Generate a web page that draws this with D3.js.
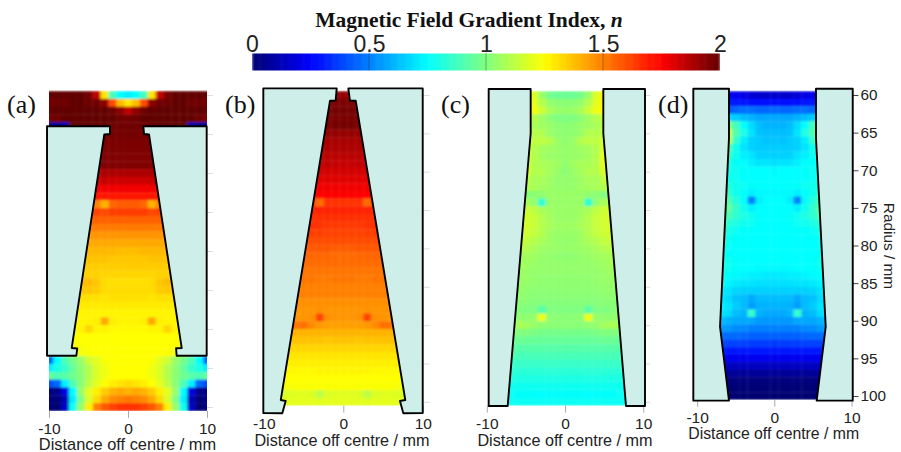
<!DOCTYPE html>
<html lang="en">
<head>
<meta charset="UTF-8">
<title>Magnetic Field Gradient Index</title>
<script src="https://d3js.org/d3.v7.min.js"></script>
<style>
  * { margin: 0; padding: 0; box-sizing: border-box; }
  body { background: #fff; }
  text { font-family: "Liberation Sans", Arial, sans-serif; fill: #222; }
  .serif { font-family: "Liberation Serif", "Times New Roman", serif; fill: #111; }
</style>
</head>
<body>
<div id="chart"></div>
<script>
// radius of each row, mm. each row below reads from the centre outwards (0, 1, 2 ... mm off centre)
const radii = d3.range(60, 101);
const xTicks = [-10, 0, 10];
const radiusTicks = [60, 65, 70, 75, 80, 85, 90, 95, 100];
const barTicks = [0, 0.5, 1, 1.5, 2];

const nA = [
  [0.72,0.75,0.88,1.3,1.85,1.97,2,2,2,2,2],
  [1.3,1.38,1.6,1.93,1.98,1.98,2,2,1.98,1.98,1.98],
  [1.85,1.93,1.98,2,2,2,2,2,2,2,2],
  [1.97,1.98,2,2,2,2,2,2,2,1.98,1.97],
  [1.98,1.98,1.98,2,2,2,2,2,0.12,0.08,0.1],
  [1.97,1.97,1.97,1.97],
  [1.96,1.96,1.96,1.96,1.96],
  [1.96,1.96,1.96,1.96,1.96],
  [1.95,1.95,1.95,1.95,1.95],
  [1.95,1.95,1.95,1.95,1.95],
  [1.88,1.88,1.88,1.88,1.88],
  [1.83,1.83,1.83,1.84,1.84],
  [1.77,1.77,1.77,1.77,1.77],
  [1.71,1.71,1.71,1.71,1.71,1.71],
  [1.57,1.57,1.55,1.4,1.5,1.4],
  [1.63,1.63,1.63,1.6,1.62,1.62],
  [1.56,1.56,1.56,1.56,1.56,1.56],
  [1.51,1.51,1.51,1.51,1.51,1.51],
  [1.46,1.46,1.46,1.46,1.46,1.46],
  [1.42,1.42,1.42,1.42,1.42,1.42],
  [1.38,1.38,1.39,1.39,1.39,1.39],
  [1.36,1.36,1.36,1.37,1.37,1.37,1.37],
  [1.35,1.35,1.35,1.35,1.35,1.35,1.35],
  [1.33,1.33,1.33,1.33,1.34,1.34,1.34],
  [1.31,1.31,1.31,1.32,1.36,1.38,1.38],
  [1.32,1.32,1.32,1.32,1.35,1.36,1.36],
  [1.31,1.31,1.31,1.3,1.31,1.31,1.31,1.31],
  [1.29,1.29,1.29,1.29,1.29,1.29,1.29,1.29],
  [1.27,1.27,1.27,1.27,1.27,1.27,1.27,1.27],
  [1.27,1.27,1.28,1.42,1.28,1.27,1.27,1.27],
  [1.26,1.26,1.26,1.27,1.27,1.33,1.27,1.26],
  [1.25,1.25,1.25,1.25,1.25,1.25,1.25,1.25],
  [1.25,1.25,1.25,1.25,1.25,1.25,1.24,1.24],
  [1.25,1.25,1.25,1.25,1.25,1.24,1.23,1.22],
  [1.25,1.25,1.25,1.24,1.2,1.16,1.05,0.98,0.9,0.75,0.45],
  [1.25,1.25,1.25,1.22,1.18,1.1,1.03,0.95,0.85,0.8,0.72],
  [1.25,1.25,1.25,1.22,1.18,1.1,1.02,0.97,0.92,0.9,0.95],
  [1.32,1.3,1.28,1.25,1.2,1.12,1.02,0.9,0.72,0.45,0.4],
  [1.4,1.42,1.4,1.35,1.28,1.2,1.05,0.75,0.2,0.05,0.02],
  [1.52,1.5,1.48,1.42,1.32,1.18,1.0,0.72,0.12,0.02,0.02],
  [1.65,1.65,1.62,1.58,1.5,1.28,1.05,0.78,0.15,0,0.02]
];

const nB = [
  [1.92,1.92,1.92,1.92],
  [1.96,1.96,1.96,1.96],
  [1.97,1.97,1.97,1.97],
  [1.96,1.96,1.96,1.96],
  [1.97,1.97,1.96,1.96],
  [1.92,1.92,1.92,1.92],
  [1.89,1.89,1.89,1.89],
  [1.88,1.88,1.88,1.88,1.88],
  [1.86,1.86,1.86,1.86,1.86],
  [1.84,1.84,1.85,1.85,1.85],
  [1.82,1.82,1.82,1.83,1.83],
  [1.8,1.8,1.8,1.8,1.8],
  [1.77,1.77,1.77,1.77,1.78,1.78],
  [1.75,1.75,1.75,1.75,1.75,1.75],
  [1.65,1.65,1.65,1.54,1.64,1.6],
  [1.68,1.68,1.68,1.68,1.68,1.68],
  [1.66,1.66,1.66,1.66,1.66,1.66],
  [1.64,1.64,1.64,1.65,1.66,1.66],
  [1.62,1.62,1.62,1.63,1.63,1.63],
  [1.6,1.6,1.6,1.6,1.6,1.6,1.6],
  [1.57,1.57,1.58,1.58,1.58,1.58,1.58],
  [1.54,1.54,1.55,1.55,1.55,1.55,1.55],
  [1.54,1.54,1.54,1.54,1.54,1.54,1.54],
  [1.52,1.52,1.52,1.52,1.52,1.52,1.52],
  [1.52,1.52,1.51,1.51,1.52,1.52,1.52,1.52],
  [1.5,1.5,1.5,1.5,1.5,1.5,1.5,1.5],
  [1.5,1.5,1.5,1.5,1.5,1.5,1.5,1.5],
  [1.47,1.47,1.47,1.47,1.47,1.47,1.47,1.47],
  [1.46,1.46,1.46,1.47,1.46,1.46,1.46,1.46],
  [1.46,1.46,1.47,1.62,1.47,1.46,1.45,1.44],
  [1.44,1.44,1.44,1.45,1.48,1.53,1.52,1.44],
  [1.4,1.4,1.4,1.4,1.4,1.4,1.4,1.4,1.4],
  [1.37,1.37,1.36,1.37,1.37,1.37,1.37,1.37,1.37],
  [1.33,1.33,1.33,1.33,1.33,1.33,1.33,1.33,1.33],
  [1.3,1.3,1.3,1.3,1.3,1.3,1.3,1.3,1.3],
  [1.28,1.28,1.28,1.28,1.28,1.28,1.28,1.28,1.28],
  [1.27,1.27,1.27,1.27,1.26,1.26,1.26,1.26,1.26],
  [1.25,1.25,1.25,1.25,1.25,1.25,1.25,1.25,1.25],
  [1.24,1.24,1.24,1.24,1.24,1.24,1.24,1.23,1.22],
  [1.19,1.19,1.18,1.12,1.18,1.19,1.19,1.18,1.17],
  [1.2,1.2,1.2,1.19,1.2,1.2,1.2,1.2,1.2]
];

const nC = [
  [0.96,0.96,0.98,1.05,1.18,1.28],
  [1.02,1.02,1.04,1.1,1.2,1.28],
  [1.04,1.05,1.08,1.15,1.22,1.27],
  [1,1,1.02,1.06,1.1,1.12],
  [1.02,1.03,1.05,1.06,1.08,1.1],
  [1.03,1.03,1.05,1.1,1.1,1.12],
  [1.03,1.05,1.1,1.12,1.12,1.15],
  [1.04,1.05,1.06,1.07,1.1,1.18],
  [1.04,1.05,1.05,1.07,1.1,1.2,1.24],
  [1.03,1.06,1.08,1.08,1.1,1.2,1.22],
  [1.02,1.05,1.07,1.1,1.1,1.18,1.22],
  [1.04,1.04,1.06,1.08,1.08,1.12,1.2],
  [1.04,1.04,1.06,1.07,1.08,1.1,1.15],
  [1.05,1.05,1.05,1.03,1.02,1.01,0.92],
  [1.05,1.05,1.05,0.84,1.04,1.08,1.1],
  [1.05,1.05,1.06,1.08,1.12,1.15,1.16,1.16],
  [1.05,1.05,1.07,1.1,1.14,1.16,1.17,1.18],
  [1.06,1.06,1.08,1.1,1.14,1.16,1.16,1.16],
  [1.05,1.05,1.06,1.1,1.13,1.15,1.15,1.15],
  [1.04,1.04,1.06,1.08,1.1,1.13,1.14,1.14],
  [1.04,1.05,1.05,1.06,1.08,1.1,1.1,1.12],
  [1.03,1.03,1.04,1.05,1.06,1.07,1.08,1.1],
  [1.04,1.04,1.04,1.04,1.05,1.06,1.08,1.1],
  [1.04,1.04,1.04,1.04,1.04,1.05,1.06,1.08],
  [1.03,1.03,1.03,1.03,1.04,1.05,1.05,1.06],
  [1.03,1.03,1.03,1.03,1.03,1.04,1.04,1.05],
  [1.02,1.02,1.02,1.02,1.02,1.03,1.03,1.03],
  [1.01,1.01,1.01,1.01,1.01,1.02,1.02,1.02],
  [1,1,1,0.92,1,1,1.01,1.02],
  [1.02,1.02,1.03,1.22,1.04,1.03,1.03,1.04],
  [1.02,1.02,1.02,1.03,1.04,1.07,1.08,1.08],
  [0.98,0.98,0.98,0.98,0.99,1,1,1],
  [0.95,0.95,0.95,0.95,0.95,0.96,0.96,0.96],
  [0.92,0.92,0.92,0.92,0.92,0.92,0.92,0.92,0.92],
  [0.89,0.89,0.89,0.89,0.89,0.89,0.89,0.89,0.89],
  [0.86,0.86,0.86,0.86,0.86,0.86,0.86,0.86,0.86],
  [0.83,0.83,0.83,0.83,0.83,0.83,0.83,0.83,0.83],
  [0.8,0.8,0.8,0.8,0.8,0.8,0.8,0.8,0.8],
  [0.78,0.78,0.78,0.78,0.78,0.78,0.78,0.78,0.78],
  [0.76,0.76,0.76,0.75,0.76,0.76,0.76,0.77,0.77],
  [0.77,0.77,0.77,0.77,0.77,0.77,0.77,0.77,0.77]
];

const nD = [
  [0.16,0.16,0.16,0.18,0.2,0.22,0.24],
  [0.28,0.27,0.27,0.28,0.29,0.3,0.3],
  [0.46,0.45,0.45,0.47,0.47,0.45,0.42],
  [0.58,0.58,0.58,0.6,0.62,0.65,0.68],
  [0.6,0.6,0.62,0.68,0.75,0.88,1.02],
  [0.62,0.62,0.63,0.7,0.8,0.9,1.15],
  [0.64,0.63,0.65,0.66,0.72,0.85,1.12],
  [0.65,0.65,0.65,0.66,0.7,0.78,0.92],
  [0.66,0.66,0.66,0.7,0.72,0.78,0.86],
  [0.69,0.7,0.7,0.72,0.75,0.76,0.8],
  [0.74,0.75,0.75,0.75,0.76,0.77,0.8],
  [0.75,0.75,0.75,0.75,0.75,0.77,0.78],
  [0.75,0.75,0.76,0.76,0.77,0.78,0.82,0.86],
  [0.74,0.74,0.74,0.72,0.76,0.78,0.85,0.92],
  [0.75,0.75,0.72,0.5,0.75,0.82,0.9,0.96],
  [0.75,0.75,0.75,0.72,0.78,0.85,0.95,1],
  [0.75,0.75,0.76,0.78,0.8,0.84,0.9,0.92],
  [0.75,0.75,0.76,0.77,0.78,0.8,0.84,0.88],
  [0.75,0.75,0.75,0.76,0.76,0.77,0.8,0.84],
  [0.75,0.75,0.75,0.75,0.75,0.76,0.78,0.82],
  [0.75,0.75,0.75,0.75,0.75,0.75,0.77,0.8],
  [0.75,0.75,0.75,0.75,0.75,0.75,0.76,0.8],
  [0.75,0.75,0.75,0.75,0.75,0.76,0.78,0.82],
  [0.74,0.74,0.74,0.75,0.75,0.76,0.78,0.8],
  [0.71,0.71,0.72,0.72,0.73,0.74,0.76,0.78],
  [0.69,0.69,0.69,0.7,0.7,0.71,0.73,0.75],
  [0.66,0.66,0.66,0.66,0.66,0.67,0.7,0.72],
  [0.62,0.62,0.62,0.58,0.62,0.63,0.68,0.7],
  [0.6,0.6,0.6,0.56,0.62,0.65,0.7,0.72],
  [0.58,0.58,0.6,0.85,0.6,0.62,0.68,0.7],
  [0.55,0.55,0.55,0.58,0.58,0.58,0.6,0.62],
  [0.5,0.5,0.5,0.5,0.52,0.52,0.55,0.55],
  [0.44,0.44,0.44,0.44,0.45,0.46,0.46,0.46],
  [0.36,0.37,0.37,0.37,0.38,0.38,0.38,0.38],
  [0.29,0.29,0.29,0.29,0.3,0.3,0.3,0.3],
  [0.22,0.22,0.22,0.22,0.22,0.22,0.22,0.22],
  [0.14,0.14,0.14,0.14,0.14,0.14,0.14,0.14],
  [0.07,0.07,0.07,0.07,0.07,0.07,0.07,0.07],
  [0.02,0.02,0.02,0.02,0.02,0.02,0.02,0.02],
  [0.01,0.01,0.01,0.01,0.01,0.01,0.01,0.01],
  [0,0,0,0,0,0,0,0]
];

// magnet pole outlines, [mm off centre, radius mm]
const polesA = [
  [[-10.25,64],[-2.28,64],[-2.28,65],[-3,65.06],[-7.13,92.44],[-6.42,92.5],[-6.54,93.42],[-10.25,93.42]],
  [[1.94,64],[9.96,64],[9.96,93.42],[6.16,93.42],[6.08,92.47],[6.8,92.44],[2.66,65.06],[2.03,65]]
];
const polesB = [
  [[-10.06,59.13],[-0.83,59.13],[-0.96,60.74],[-1.67,60.74],[-7.87,99.77],[-7.25,99.9],[-7.67,101.5],[-10.06,101.46]],
  [[0.63,59.13],[9.99,59.13],[9.99,101.46],[7.55,101.5],[7.13,99.9],[7.8,99.77],[1.56,60.74],[0.84,60.74]]
];
const polesC = [
  [[-9.76,59.22],[-4.39,59.22],[-4.39,64.99],[-7.33,100.55],[-9.76,100.55]],
  [[4.9,59.22],[10.23,59.22],[10.23,100.55],[7.8,100.55],[4.9,64.99]]
];
const polesD = [
  [[-10.49,59.16],[-5.87,59.16],[-5.87,65.75],[-7.03,90.79],[-5.87,100.62],[-10.49,100.62]],
  [[5.4,59.16],[10.16,59.16],[10.16,100.62],[5.49,100.62],[6.66,90.79],[5.4,65.75]]
];

const panels = [
  { id: "a", n: nA, poles: polesA, x0: 49, x1: 207, y60: 95, y100: 407, tickY: 429, labelY: 444, labelX: 127.5, labelSize: 16.4, letterX: 7, letterY: 113 },
  { id: "b", n: nB, poles: polesB, x0: 263.8, x1: 422.8, y60: 95, y100: 401.8, tickY: 424, labelY: 440, labelX: 342, labelSize: 16.2, letterX: 225, letterY: 113 },
  { id: "c", n: nC, poles: polesC, x0: 486.8, x1: 643.2, y60: 95, y100: 401.8, tickY: 424, labelY: 440, labelX: 565, labelSize: 16.2, letterX: 441, letterY: 113 },
  { id: "d", n: nD, poles: polesD, x0: 697.1, x1: 851.5, y60: 95, y100: 396, tickY: 418, labelY: 433, labelX: 773.7, labelSize: 15.8, letterX: 658, letterY: 113 }
];

const width = 901, height = 452;

const svg = d3.select("#chart").append("svg")
  .attr("width", width).attr("height", height)
  .style("display", "block");

// jet colour map, n from 0 to 2
const color = d3.scaleLinear()
  .domain([0, 0.25, 0.75, 1.25, 1.75, 2])
  .range(["#000070", "#0000ff", "#00ffff", "#ffff00", "#ff0000", "#620000"])
  .clamp(true);

const defs = svg.append("defs");
defs.append("filter").attr("id", "soft")
  .attr("x", "-5%").attr("y", "-5%").attr("width", "110%").attr("height", "110%")
  .append("feGaussianBlur").attr("stdDeviation", "1.4 0.8");
defs.append("filter").attr("id", "softBar")
  .attr("x", "-2%").attr("y", "-10%").attr("width", "104%").attr("height", "120%")
  .append("feGaussianBlur").attr("stdDeviation", "1.6 0.4");

panels.forEach(p => {
  const x = d3.scaleLinear().domain([-10, 10]).range([p.x0, p.x1]);
  const y = d3.scaleLinear().domain([60, 100]).range([p.y60, p.y100]);
  const g = svg.append("g").attr("class", "panel-" + p.id);

  defs.append("clipPath").attr("id", "clip-" + p.id)
    .append("rect")
    .attr("x", x(-10)).attr("width", x(10) - x(-10))
    .attr("y", y(59.4)).attr("height", y(100.5) - y(59.4));

  // flatten rows to cells, each offset drawn on both sides of the centre
  const cells = [];
  p.n.forEach((row, i) => {
    row.forEach((v, j) => {
      cells.push({ r: radii[i], d: j, v });
      if (j > 0) cells.push({ r: radii[i], d: -j, v });
    });
  });

  g.append("g").attr("clip-path", `url(#clip-${p.id})`)
    .append("g").attr("filter", "url(#soft)")
    .selectAll("rect")
    .data(cells)
    .join("rect")
    .attr("x", d => x(d.d - 0.5))
    .attr("y", d => y(d.r - 0.5))
    .attr("width", x(1) - x(0) + 0.3)
    .attr("height", y(1 + 60) - y(60) + 0.3)
    .attr("fill", d => color(d.v));

  // bottom axis
  const xAxis = g.append("g")
    .attr("transform", `translate(0,${y(100.5)})`)
    .call(d3.axisBottom(x).tickValues(xTicks).tickSize(7).tickFormat(d => d));
  xAxis.select(".domain").remove();
  xAxis.selectAll("line").attr("stroke", "#aaa");
  xAxis.selectAll("text")
    .attr("dy", null)
    .attr("dominant-baseline", "central")
    .attr("y", p.tickY - y(100.5))
    .style("font-size", "15.5px");

  // right axis, only (d) carries labels
  const yAxis = g.append("g")
    .attr("transform", `translate(${p.id === "a" ? x(10) : x(10) + 1},0)`)
    .call(d3.axisRight(y).tickValues(radiusTicks).tickSize(6).tickPadding(2).tickFormat(d => d));
  yAxis.select(".domain").remove();
  yAxis.selectAll("line").attr("stroke", p.id === "d" ? "#444" : "#ddd");
  if (p.id === "d") yAxis.selectAll("text").style("font-size", "15.3px");
  else yAxis.selectAll("text").remove();

  // magnet poles on top of the map
  const outline = d3.line().x(d => x(d[0])).y(d => y(d[1])).curve(d3.curveLinearClosed);
  g.selectAll(".pole")
    .data(p.poles)
    .join("path")
    .attr("class", "pole")
    .attr("d", outline)
    .attr("fill", "#ceeeea")
    .attr("stroke", "#000")
    .attr("stroke-width", 1.9)
    .attr("stroke-linejoin", "round");

  g.append("text")
    .attr("x", p.labelX).attr("y", p.labelY)
    .attr("text-anchor", "middle")
    .attr("dominant-baseline", "central")
    .style("font-size", p.labelSize + "px")
    .text("Distance off centre / mm");

  g.append("text")
    .attr("class", "serif")
    .attr("x", p.letterX).attr("y", p.letterY)
    .style("font-size", "26px")
    .text(`(${p.id})`);
});

svg.append("text")
  .attr("transform", "translate(889,246) rotate(90)")
  .attr("text-anchor", "middle")
  .attr("dominant-baseline", "central")
  .style("font-size", "15.4px")
  .text("Radius / mm");

// colour bar
const barX = d3.scaleLinear().domain([0, 2]).range([252, 720]);
const barTop = 53.5, barH = 17;
const steps = d3.range(0, 64).map(i => i / 64 * 2);

defs.append("clipPath").attr("id", "clip-bar")
  .append("rect")
  .attr("x", barX(0)).attr("y", barTop)
  .attr("width", barX(2) - barX(0)).attr("height", barH);

svg.append("g").attr("clip-path", "url(#clip-bar)")
  .append("g").attr("filter", "url(#softBar)")
  .selectAll("rect")
  .data(steps)
  .join("rect")
  .attr("x", d => barX(d))
  .attr("y", barTop - 2)
  .attr("width", (barX(2) - barX(0)) / 64 + 0.4)
  .attr("height", barH + 4)
  .attr("fill", d => color(d + 1 / 64));

const barAxis = svg.append("g")
  .attr("transform", `translate(0,${barTop})`)
  .call(d3.axisTop(barX).tickValues(barTicks).tickSize(0).tickPadding(2).tickFormat(d => d));
barAxis.select(".domain").remove();
barAxis.selectAll("text").style("font-size", "23px");

svg.append("g").selectAll("line")
  .data(barTicks.slice(1, -1))
  .join("line")
  .attr("x1", d => barX(d)).attr("x2", d => barX(d))
  .attr("y1", barTop - 1).attr("y2", barTop + barH)
  .attr("stroke", "#000").attr("stroke-opacity", 0.3);

const title = svg.append("text")
  .attr("class", "serif")
  .attr("x", 469).attr("y", 27)
  .attr("text-anchor", "middle")
  .style("font-size", "21.5px")
  .style("font-weight", "bold");
title.append("tspan").text("Magnetic Field Gradient Index, ");
title.append("tspan").style("font-style", "italic").text("n");
</script>
</body>
</html>
